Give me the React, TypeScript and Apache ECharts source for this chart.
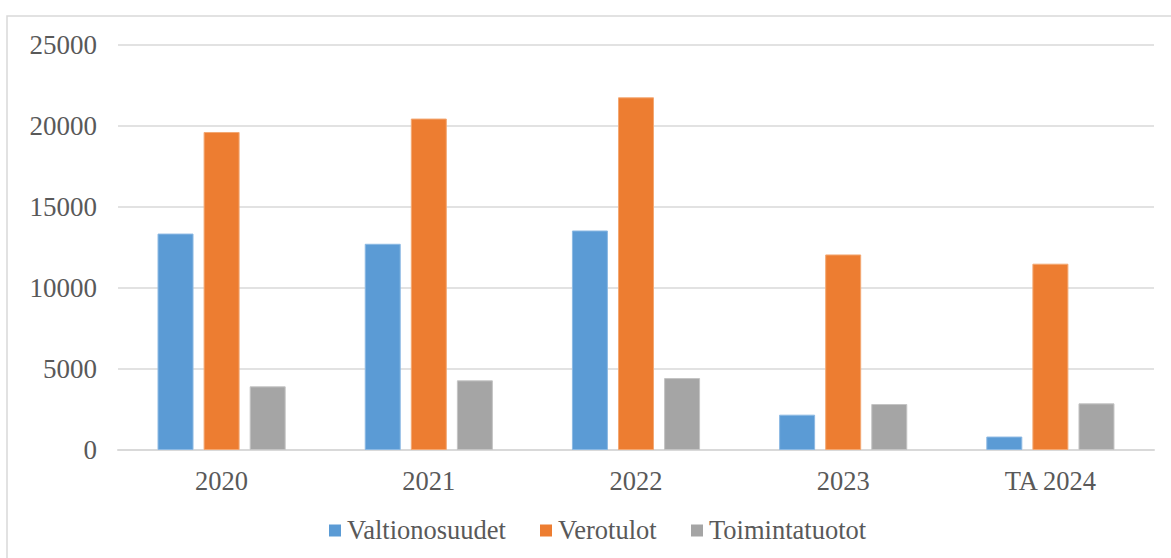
import React, { useEffect, useRef } from "react";
import * as echarts from "echarts";

const categories = ["2020", "2021", "2022", "2023", "TA 2024"];
const seriesNames = ["Valtionosuudet", "Verotulot", "Toimintatuotot"];
const valtionosuudet = [13360, 12730, 13550, 2180, 830];
const verotulot = [19630, 20460, 21770, 12070, 11500];
const toimintatuotot = [3930, 4300, 4440, 2840, 2880];
const yTicks = { min: 0, max: 25000, interval: 5000 };

const FONT = "Liberation Serif";
const TEXT = "#595959";
const COLORS = ["#5b9bd5", "#ed7d31", "#a5a5a5"];
const BORDERS = ["#8cb9e3", "#f3a873", "#c4c4c4"];
const LEGEND_X = [329, 540, 691];

export default function App() {
  const ref = useRef<HTMLDivElement>(null);
  useEffect(() => {
    if (!ref.current) return;
    const chart = echarts.init(ref.current, undefined, { renderer: "svg" });
    const datas = [valtionosuudet, verotulot, toimintatuotot];
    const legendGraphics: any[] = [];
    seriesNames.forEach((name, i) => {
      legendGraphics.push({
        type: "rect",
        shape: { x: LEGEND_X[i], y: 524.5, width: 12, height: 12 },
        style: { fill: COLORS[i] },
        silent: true,
      });
      legendGraphics.push({
        type: "text",
        x: LEGEND_X[i] + 18,
        y: 530,
        style: {
          text: name,
          fill: TEXT,
          fontSize: 26.5,
          fontFamily: FONT,
          verticalAlign: "middle",
          align: "left",
        },
        silent: true,
      });
    });
    chart.setOption({
      animation: false,
      backgroundColor: "#ffffff",
      textStyle: { fontFamily: FONT },
      graphic: [
        {
          type: "rect",
          shape: { x: 7, y: 16, width: 1400, height: 800 },
          style: { fill: "none", stroke: "#d9d9d9", lineWidth: 1.5 },
          silent: true,
        },
        ...legendGraphics,
      ],
      grid: { left: 118, right: 17, top: 45, bottom: 108, containLabel: false },
      legend: { show: false, data: seriesNames },
      xAxis: {
        type: "category",
        data: categories,
        axisTick: { show: false },
        axisLine: { lineStyle: { color: "#d9d9d9", width: 2 } },
        axisLabel: { fontFamily: FONT, fontSize: 26.5, color: TEXT, margin: 17 },
      },
      yAxis: {
        type: "value",
        min: yTicks.min,
        max: yTicks.max,
        interval: yTicks.interval,
        axisLine: { show: false },
        axisTick: { show: false },
        splitLine: { lineStyle: { color: "#d9d9d9", width: 1.5 } },
        axisLabel: {
          fontFamily: FONT,
          fontSize: 27,
          color: TEXT,
          margin: 21,
          formatter: (v: number) => String(v),
        },
      },
      series: seriesNames.map((name, i) => ({
        name,
        type: "bar",
        data: datas[i],
        barWidth: 36,
        barGap: "28%",
        itemStyle: { color: COLORS[i], borderColor: BORDERS[i], borderWidth: 1 },
      })),
    });
    return () => chart.dispose();
  }, []);
  return (
    <div
      ref={ref}
      style={{ position: "fixed", left: 0, top: 0, width: 1171, height: 558 }}
    />
  );
}
